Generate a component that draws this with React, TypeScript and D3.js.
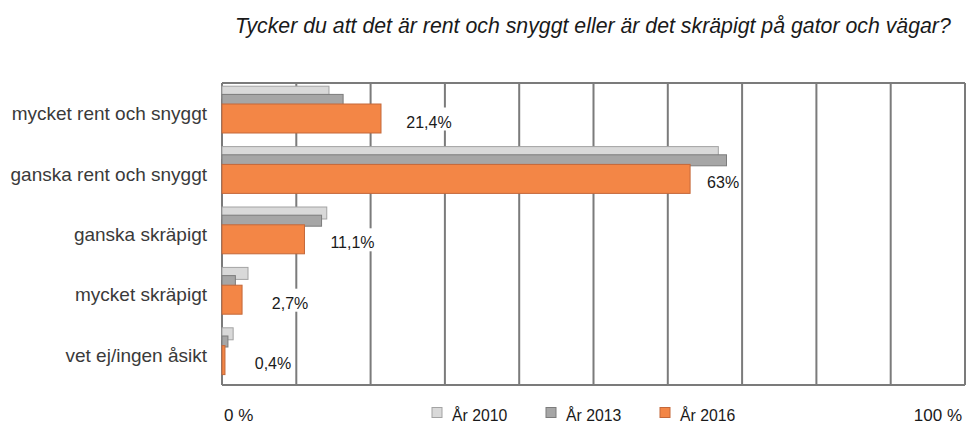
import * as d3 from 'd3'

const categories = [
  'mycket rent och snyggt',
  'ganska rent och snyggt',
  'ganska skräpigt',
  'mycket skräpigt',
  'vet ej/ingen åsikt',
]
const years = ['År 2010', 'År 2013', 'År 2016']
const values2010 = [14.4, 66.8, 14.1, 3.5, 1.5]
const values2013 = [16.3, 67.9, 13.4, 1.8, 0.8]
const values2016 = [21.4, 63, 11.1, 2.7, 0.4]
const labels2016 = ['21,4%', '63%', '11,1%', '2,7%', '0,4%']
const title = 'Tycker du att det är rent och snyggt eller är det skräpigt på gator och vägar?'
const axisLabels = ['0 %', '100 %']

const W = 966
const H = 424
const font = '"Liberation Sans", Arial, Helvetica, sans-serif'

// per-series look: fill, stroke, offset inside band, height
const seriesStyle = [
  { fill: '#d9d9d9', stroke: '#a3a3a3', dy: 3.2, h: 12 },
  { fill: '#a6a6a6', stroke: '#7c7c7c', dy: 11.4, h: 11 },
  { fill: '#f38646', stroke: '#c4683a', dy: 21, h: 29 },
]

export default function App() {
  const left = 222
  const right = 965
  const top = 83
  const bottom = 385

  const x = d3.scaleLinear().domain([0, 100]).range([left, right])
  const y = d3.scaleBand<string>().domain(categories).range([top, bottom]).padding(0)
  const ticks = d3.range(0, 101, 10)
  const series = [values2010, values2013, values2016]

  return (
    <svg width={W} height={H} style={{ position: 'absolute', left: 0, top: 0, background: '#fff' }} fontFamily={font}>
      <text x={235} y={33} fontSize={21.3} fontStyle="italic" fill="#1a1a1a">{title}</text>

      {/* grid */}
      {ticks.map((t) => (
        <line key={t} x1={x(t)} x2={x(t)} y1={top} y2={bottom} stroke="#7b7b7b" strokeWidth={2} />
      ))}
      <line x1={left} x2={right} y1={top} y2={top} stroke="#7b7b7b" strokeWidth={2} />
      <line x1={left} x2={right} y1={bottom} y2={bottom} stroke="#7b7b7b" strokeWidth={2} />

      {/* bars */}
      {categories.map((c, i) => {
        const y0 = y(c) as number
        return (
          <g key={c}>
            {series.map((vals, s) => (
              <rect
                key={s}
                x={x(0)}
                y={y0 + seriesStyle[s].dy}
                width={x(vals[i]) - x(0)}
                height={seriesStyle[s].h}
                fill={seriesStyle[s].fill}
                stroke={seriesStyle[s].stroke}
                strokeWidth={1}
              />
            ))}
          </g>
        )
      })}

      {/* value labels */}
      {categories.map((c, i) => {
        const y0 = y(c) as number
        const cy = y0 + seriesStyle[2].dy + seriesStyle[2].h / 2
        const cx = Math.min(x(values2016[i]) + 48, x(70) - 19)
        const tw = labels2016[i].length * 9 + 2
        return (
          <g key={c}>
            <rect x={cx - tw / 2} y={cy - 11} width={tw + 3} height={23} fill="#fff" />
            <text x={cx} y={cy + 9} textAnchor="middle" fontSize={16} fill="#1a1a1a">{labels2016[i]}</text>
          </g>
        )
      })}

      {/* category labels */}
      {categories.map((c) => (
        <text key={c} x={207} y={(y(c) as number) + y.bandwidth() / 2 + 7} textAnchor="end" fontSize={19} fill="#3a3a3a">
          {c}
        </text>
      ))}

      {/* axis end labels */}
      <text x={224} y={421} fontSize={17} fill="#1a1a1a">{axisLabels[0]}</text>
      <text x={962} y={421} fontSize={17} fill="#1a1a1a" textAnchor="end">{axisLabels[1]}</text>

      {/* legend */}
      {years.map((yr, s) => {
        const lx = 432 + s * 114
        return (
          <g key={yr}>
            <rect x={lx} y={407.5} width={10} height={10} fill={seriesStyle[s].fill} stroke={seriesStyle[s].stroke} />
            <text x={lx + 20} y={421} fontSize={15.8} fill="#1a1a1a">{yr}</text>
          </g>
        )
      })}
    </svg>
  )
}
